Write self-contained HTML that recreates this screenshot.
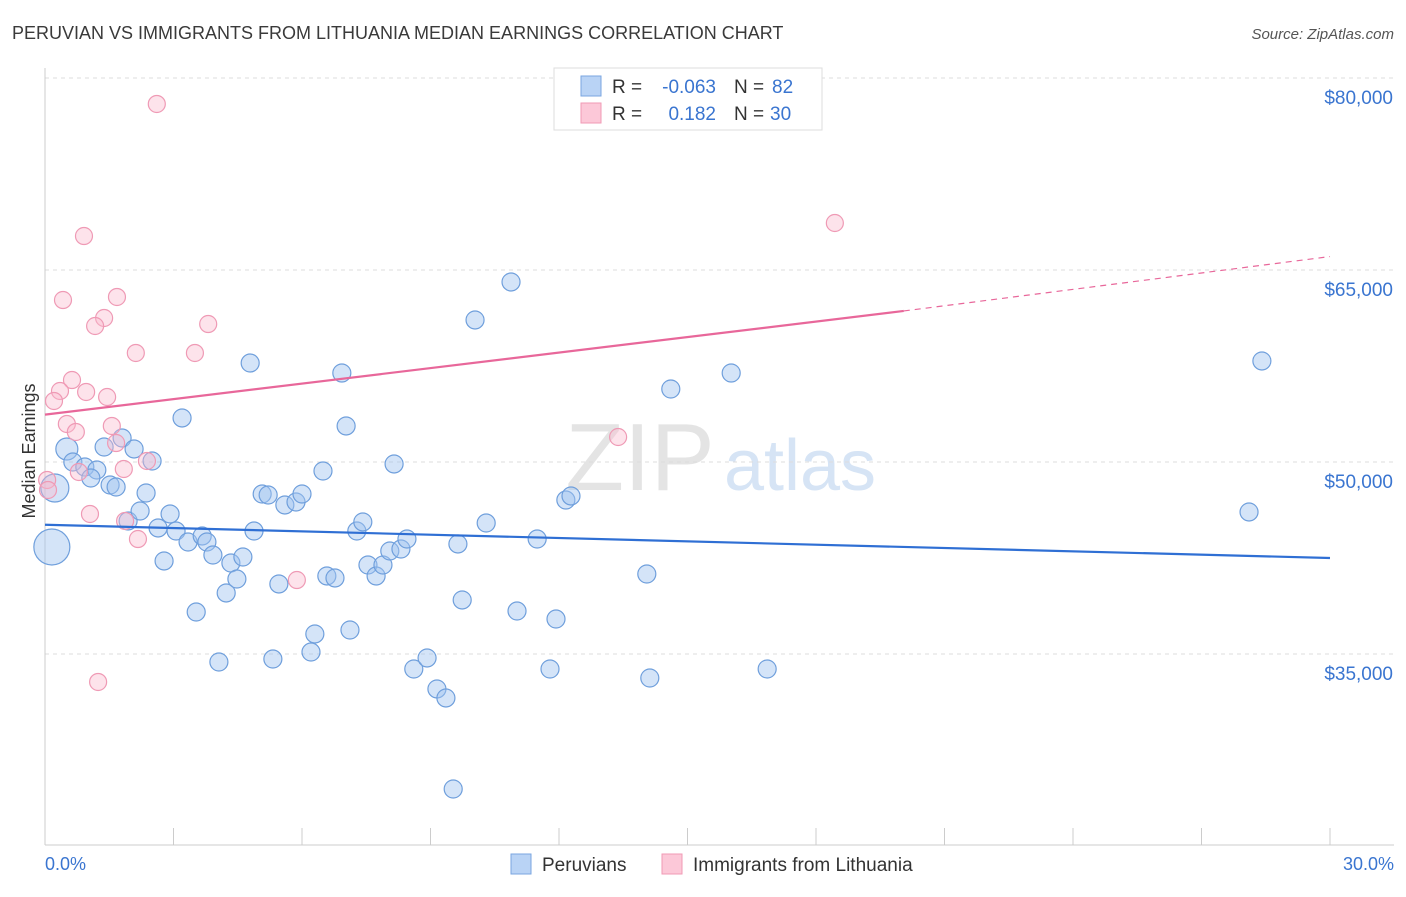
<!DOCTYPE html>
<html><head><meta charset="utf-8"><style>
body{margin:0;background:#fff;font-family:"Liberation Sans",sans-serif;}
svg text{font-family:"Liberation Sans",sans-serif;}
</style></head><body>
<svg id="chart" width="1406" height="892" xmlns="http://www.w3.org/2000/svg">
<text x="12" y="39" font-size="18" fill="#3a3a3a">PERUVIAN VS IMMIGRANTS FROM LITHUANIA MEDIAN EARNINGS CORRELATION CHART</text>
<text x="1394" y="39" font-size="15" fill="#555" font-style="italic" text-anchor="end">Source: ZipAtlas.com</text>
<text x="640" y="490" font-size="96" fill="#e4e4e4" font-family="Liberation Serif" text-anchor="middle">ZIP</text>
<text x="800" y="490" font-size="72" fill="#d6e4f5" text-anchor="middle">atlas</text>
<g id="grid"></g><g id="axes"></g><g id="marks"></g>
<text x="40" y="456" font-size="18" fill="#333" transform="rotate(-90 35 456)" text-anchor="middle">Median Earnings</text>
<text x="45" y="870" font-size="18" fill="#3a75d0">0.0%</text>
<text x="1394" y="870" font-size="18" fill="#3a75d0" text-anchor="end">30.0%</text>
<g>
<rect x="554" y="68" width="268" height="62" fill="#fff" stroke="#ddd"/>
<rect x="581" y="76" width="20" height="20" fill="#b9d3f5" stroke="#7aa6e0"/>
<rect x="581" y="103" width="20" height="20" fill="#fcc8d8" stroke="#f09ab5"/>
<text x="612" y="93" font-size="19" fill="#333">R =</text>
<text x="716" y="93" font-size="19" fill="#3a75d0" text-anchor="end">-0.063</text>
<text x="734" y="93" font-size="19" fill="#333">N =</text>
<text x="772" y="93" font-size="19" fill="#3a75d0">82</text>
<text x="612" y="120" font-size="19" fill="#333">R =</text>
<text x="716" y="120" font-size="19" fill="#3a75d0" text-anchor="end">0.182</text>
<text x="734" y="120" font-size="19" fill="#333">N =</text>
<text x="770" y="120" font-size="19" fill="#3a75d0">30</text>
</g>
<g>
<rect x="511" y="854" width="20" height="20" fill="#b9d3f5" stroke="#7aa6e0"/>
<text x="542" y="871" font-size="19" fill="#333">Peruvians</text>
<rect x="662" y="854" width="20" height="20" fill="#fcc8d8" stroke="#f09ab5"/>
<text x="693" y="871" font-size="19" fill="#333">Immigrants from Lithuania</text>
</g>
</svg>
<script>
const yTicks=[80000,65000,50000,35000];
const yTickLabels=["$80,000","$65,000","$50,000","$35,000"];
const blueX=[52,55,67,73,85,97,91,104,110,116,122,128,134,140,146,152,158,164,170,176,182,188,196,202,207,213,219,226,231,237,243,250,254,262,268,273,279,285,296,302,311,315,323,327,335,342,346,350,357,363,368,376,383,390,394,401,407,414,427,437,446,453,458,462,475,486,511,517,537,550,556,566,571,647,650,671,731,767,1249,1262].map(p=>+((p-45)*30/1285).toFixed(2));
const blueY=[547,488,449,462,467,470,478,447,485,487,438,521,449,511,493,461,528,561,514,531,418,542,612,536,542,555,662,593,563,579,557,363,531,494,495,659,584,505,502,494,652,634,471,576,578,373,426,630,531,522,565,576,565,551,464,549,539,669,658,689,698,789,544,600,320,523,282,611,539,669,619,500,496,574,678,389,373,669,512,361].map(p=>Math.round(80000-(p-78)*78.125));
const pinkX=[157,84,835,63,117,104,95,208,136,195,72,60,86,107,54,67,112,76,116,147,124,79,47,48,90,125,138,618,297,98].map(p=>+((p-45)*30/1285).toFixed(2));
const pinkY=[104,236,223,300,297,318,326,324,353,353,380,391,392,397,401,424,426,432,443,461,469,472,480,490,514,521,539,437,580,682].map(p=>Math.round(80000-(p-78)*78.125));
const blueTrend=[45100,42500];
const pinkTrend=[53700,61800,66050];
const pinkTrendX=[0,20.05,30];
const sx=v=>45+v/30*1285, sy=v=>78+(80000-v)*0.0128;
const NS="http://www.w3.org/2000/svg";
function mk(t,a,p){const e=document.createElementNS(NS,t);for(const k in a)e.setAttribute(k,a[k]);p.appendChild(e);return e;}
const grid=document.getElementById('grid'),axes=document.getElementById('axes'),marks=document.getElementById('marks');
yTicks.forEach((v,i)=>{
 const l=mk('line',{x1:45,x2:1394,y1:sy(v),y2:sy(v),stroke:'#ddd','stroke-dasharray':'4,4'},grid);
 
 
 const t=mk('text',{x:1393,y:sy(v)+26,'font-size':19,fill:'#3a75d0','text-anchor':'end'},grid);
 t.textContent=yTickLabels[i];
 
 
});
mk('line',{x1:45,x2:45,y1:68,y2:845,stroke:'#ccc'},axes);
mk('line',{x1:45,x2:1394,y1:845,y2:845,stroke:'#ccc'},axes);
for(let i=0;i<=10;i++){const x=sx(i*3);mk('line',{x1:x,x2:x,y1:828,y2:845,stroke:'#ccc'},axes);}
blueX.forEach((x,i)=>{
 const r=i==0?18:(i==1?14:(i==2?11:9));
 const c=mk('circle',{cx:sx(x),cy:sy(blueY[i]),r:r,fill:'rgba(160,195,240,0.45)',stroke:'#6f9fdc','stroke-width':1.2},marks);
 
 
});
pinkX.forEach((x,i)=>{
 const c=mk('circle',{cx:sx(x),cy:sy(pinkY[i]),r:8.5,fill:'rgba(250,185,205,0.4)',stroke:'#ef9ab5','stroke-width':1.2},marks);
 
 
});
const bl=mk('line',{x1:sx(0),y1:sy(blueTrend[0]),x2:sx(30),y2:sy(blueTrend[1]),stroke:'#2f6fd4','stroke-width':2.2},marks);


const pl=mk('line',{x1:sx(pinkTrendX[0]),y1:sy(pinkTrend[0]),x2:sx(pinkTrendX[1]),y2:sy(pinkTrend[1]),stroke:'#e8679a','stroke-width':2.2},marks);


const pd=mk('line',{x1:sx(pinkTrendX[1]),y1:sy(pinkTrend[1]),x2:sx(pinkTrendX[2]),y2:sy(pinkTrend[2]),stroke:'#e8679a','stroke-width':1.2,'stroke-dasharray':'6,5'},marks);


</script>
</body></html>
